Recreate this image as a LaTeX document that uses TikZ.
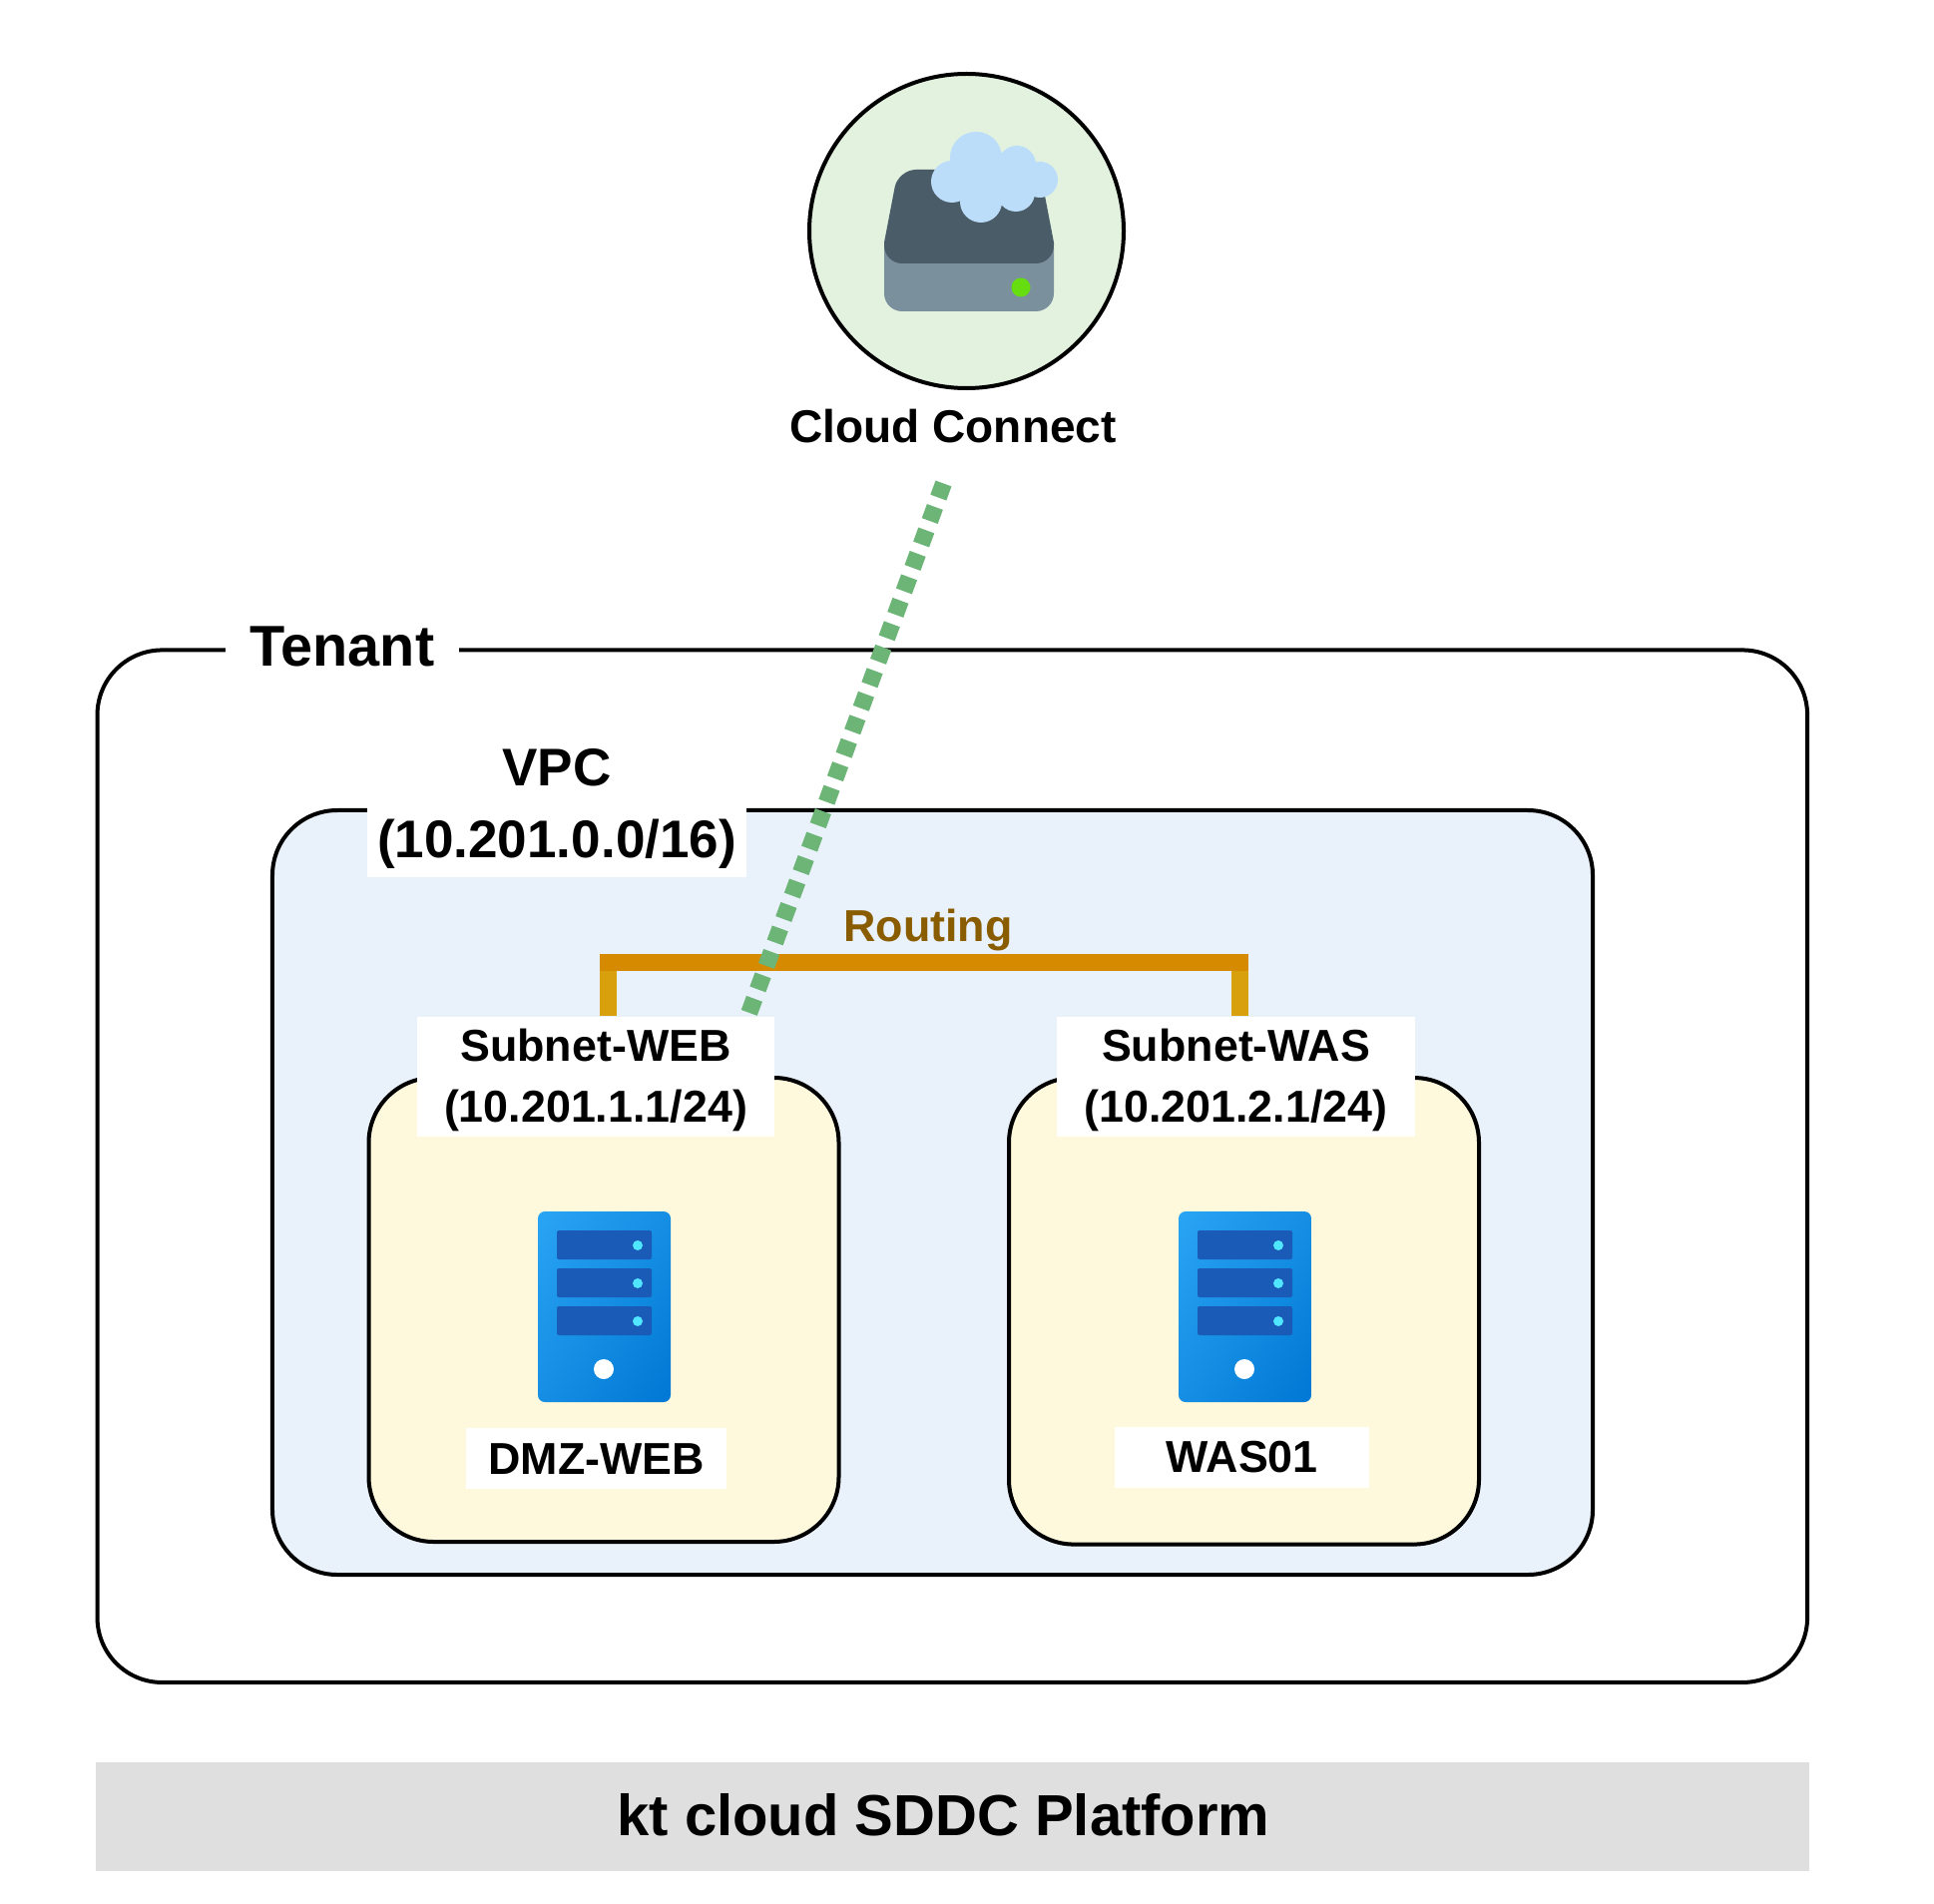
\documentclass[tikz,border=0pt]{standalone}
\usepackage{fontspec}
\setmainfont{Liberation Sans}
\usetikzlibrary{calc}
\usetikzlibrary{backgrounds}
\usetikzlibrary{shadings}
\definecolor{vpcfill}{HTML}{E9F1FB}
\definecolor{subnetfill}{HTML}{FEF9DC}
\definecolor{cloudfill}{HTML}{E2F2DF}
\definecolor{platformfill}{HTML}{DFDFDF}
\definecolor{routebar}{HTML}{D68A00}
\definecolor{routeleg}{HTML}{D8A00C}
\definecolor{routetext}{HTML}{8A5C00}
\definecolor{linkgreen}{HTML}{6CB577}
\tikzset{
% Frames: one style for every rounded box
frame node/.style={rectangle,draw=black,line width=.8mm,rounded corners=13mm,inner sep=0,outer sep=0},
% White labels on top of the frames
label node/.style={fill=white,inner sep=0,align=center,font=\bfseries\fontsize{25.5}{34.7}\selectfont},
subnet label/.style={label node,minimum width=71.7mm,minimum height=24mm,text height=57.8pt},
route leg/.style={draw=routeleg,line width=3.4mm},
route bar/.style={draw=routebar,line width=3.4mm,line cap=rect},
link line/.style={draw=linkgreen,line width=3.4mm,dash pattern=on 3mm off 2mm}
}
% One server, given by its upper left corner
\newcommand{\serverIcon}[1]{
	\begin{scope}[shift={#1}]
		\shade[rounded corners=1.4mm,upper left=serverlight,lower right=serverdark,upper right=servermid,lower left=servermid] (0,0) rectangle (133,191);
		\foreach \y in {19,57,95}{
			\fill[serverbar,rounded corners=.4mm] (19,\y) rectangle (114,\y+29);
			\fill[serverled] (100,\y+15) circle (5);
		}
		\fill[white] (66,158) circle (10);
	\end{scope}
}
\definecolor{serverlight}{HTML}{2AA4F4}
\definecolor{serverdark}{HTML}{0078D4}
\definecolor{servermid}{HTML}{158EE4}
\definecolor{serverbar}{HTML}{1B5BB8}
\definecolor{serverled}{HTML}{50E6FF}
\begin{document}
\begin{tikzpicture}[x=.2mm,y=-.2mm]
		\useasboundingbox (0,0) rectangle (1938,1908);
		% The frames
		\begin{scope}[on background layer]
			\fill[white] (0,0) rectangle (1938,1908);
			\node(tenant)[frame node,minimum width=342.7mm,minimum height=206.9mm] at (954.3,1168.7){};
			\node(vpc)[frame node,fill=vpcfill,minimum width=264.6mm,minimum height=153.2mm] at (934.5,1195){};
			\node(web)[frame node,fill=subnetfill,minimum width=94.2mm,minimum height=93mm] at (605,1312.5){};
			\node(was)[frame node,fill=subnetfill,minimum width=94.2mm,minimum height=93.5mm] at (1246.5,1313.8){};
		\end{scope}
		% Cloud Connect
		\node(cloud)[circle,draw=black,line width=.8mm,fill=cloudfill,inner sep=0,minimum size=63mm] at (968.5,231.5){};
		\fill[color={rgb,255:red,122;green,144;blue,156},rounded corners=3.6mm] (886,230) rectangle (1056,312);
		\fill[color={rgb,255:red,74;green,92;blue,103}] (1056,243) [rounded corners=3.6mm] -- (1056,264) -- (886,264) [sharp corners] -- (886,243) [rounded corners=3.6mm] -- (900,170) -- (1042,170) [sharp corners] -- cycle;
		\fill[color={rgb,255:red,102;green,221;blue,17}] (1023,288) circle (9.5);
		\fill[color={rgb,255:red,187;green,221;blue,249}] (978,158) circle (26) (1019,165) circle (19) (1042,180) circle (18) (954,182) circle (21) (983,202) circle (21) (1018,193) circle (19) (985,180) circle (25) (1010,178) circle (22);
		\node(cloudtext)[font=\bfseries\fontsize{26.2}{32}\selectfont,inner sep=0] at (955,426.8){Cloud Connect};
		% The labels
		\node(tenanttext)[label node,font=\bfseries\fontsize{32.8}{38}\selectfont,minimum width=46.8mm,minimum height=10mm] at (343,647.8){Tenant};
		\node(vpctext)[label node,font=\bfseries\fontsize{30.2}{40.7}\selectfont,minimum width=76mm,minimum height=27.3mm] at (558,810.7){VPC\\(10.201.0.0/16)};
		\node(webtext)[subnet label] at (597,1078.5){Subnet-WEB\\(10.201.1.1/24)};
		\node(wastext)[subnet label] at (1238.5,1078.5){Subnet-WAS\\(10.201.2.1/24)};
		\node(dmz)[label node,minimum width=52.2mm,minimum height=12.1mm] at (597.7,1461.6){DMZ-WEB};
		\node(was01)[label node,minimum width=51mm,minimum height=12.1mm] at (1244.8,1460.3){WAS01};
		\node(routing)[font=\bfseries\fontsize{25.5}{30}\selectfont,text=routetext,inner sep=0] at (930,931.8){Routing};
		\node(platform)[fill=platformfill,inner sep=0,minimum width=343.3mm,minimum height=21.8mm] at (954.7,1820.5){};
		\node(platformtext)[font=\bfseries\fontsize{33}{38}\selectfont,inner sep=0] at (945.5,1819){kt cloud SDDC Platform};
		% The servers
		\serverIcon{(539,1214)}
		\serverIcon{(1181,1214)}
		% The connectors stay under the white labels
		\coordinate(linktop) at (945.5,484.5);
		\coordinate(routeweb) at ($(webtext.north)+(12.5,0)$);
		\coordinate(routewas) at ($(wastext.north)+(3.5,0)$);
		\begin{scope}[on background layer]
			\draw[route leg] (routeweb) -- (routeweb|-0,964);
			\draw[route leg] (routewas) -- (routewas|-0,964);
			\draw[route bar] (routeweb|-0,964) -- (routewas|-0,964);
			\draw[link line] (linktop) -- ($(webtext.north east)+(-34.4,20)$);
		\end{scope}
\end{tikzpicture}
\end{document}
